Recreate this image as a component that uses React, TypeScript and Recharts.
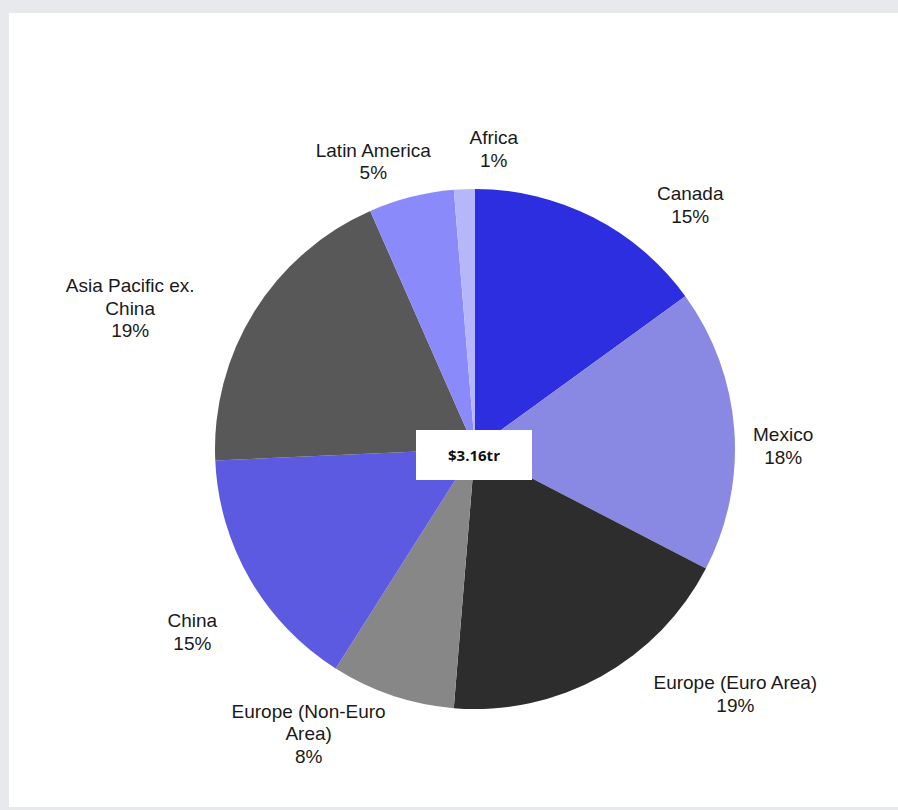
import React from "react";
import { Cell, Label, Pie, PieChart } from "recharts";

// regions, in clockwise order from 12 o'clock
const regions = [
  "Canada",
  "Mexico",
  "Europe (Euro Area)",
  "Europe (Non-Euro Area)",
  "China",
  "Asia Pacific ex. China",
  "Latin America",
  "Africa",
];

// share of total (%)
const shares = [15.0, 17.6, 18.7, 7.7, 15.3, 19.1, 5.3, 1.3];

// rounded label text as printed on the chart
const shareLabels = ["15%", "18%", "19%", "8%", "15%", "19%", "5%", "1%"];

// how each name wraps onto lines
const nameLines = [
  ["Canada"],
  ["Mexico"],
  ["Europe (Euro Area)"],
  ["Europe (Non-Euro", "Area)"],
  ["China"],
  ["Asia Pacific ex.", "China"],
  ["Latin America"],
  ["Africa"],
];

const totalLabel = "$3.16tr";

const colors = [
  "#2e2ee1",
  "#8988e2",
  "#2d2d2d",
  "#878787",
  "#5b5ae0",
  "#585858",
  "#8a8afb",
  "#b6b6fb",
];

// nudges for each label from its spot on the mid-angle (Excel-style placement)
const labelNudge = [
  [79, 23],
  [9, 19],
  [115, -18],
  [-71, 0],
  [-23, 32],
  [-90, 17],
  [-28, 3],
  [31, -1],
];

const data = regions.map((name, i) => ({
  name,
  value: shares[i],
  idx: i,
}));

const CX = 475;
const CY = 449;
const RADIAN = Math.PI / 180;
const LINE_H = 22.5;

const renderLabel = (props: any) => {
  const { cx, cy, midAngle, outerRadius, index } = props;
  const r = outerRadius + 40;
  const x = cx + r * Math.cos(-midAngle * RADIAN) + labelNudge[index][0];
  const y = cy + r * Math.sin(-midAngle * RADIAN) + labelNudge[index][1];
  const lines = [...nameLines[index], shareLabels[index]];
  const top = y - ((lines.length - 1) * LINE_H) / 2;
  return (
    <text
      key={`lbl-${index}`}
      x={x}
      y={top}
      textAnchor="middle"
      dominantBaseline="central"
      fill="#1a1a1a"
      fontSize={19}
      fontFamily="'Liberation Sans', Arial, sans-serif"
    >
      {lines.map((ln, j) => (
        <tspan key={j} x={x} y={top + j * LINE_H} dominantBaseline="central">
          {ln}
        </tspan>
      ))}
    </text>
  );
};

// white box with the total, sitting just off the pie centre
const renderCenter = () => (
  <g>
    <rect x={CX - 59} y={CY - 19} width={116} height={50} fill="#ffffff" />
    <text
      x={CX - 1}
      y={CY + 6}
      textAnchor="middle"
      dominantBaseline="central"
      fontSize={15}
      fontWeight={700}
      fill="#111111"
      fontFamily="'Open Sans', sans-serif"
    >
      {totalLabel}
    </text>
  </g>
);

export default function App() {
  return (
    <div
      style={{
        position: "absolute",
        left: 0,
        top: 0,
        width: 898,
        height: 810,
        background: "#e8e9ed",
      }}
    >
      <div
        style={{
          position: "absolute",
          left: 9,
          top: 13,
          width: 889,
          height: 794,
          background: "#ffffff",
        }}
      />
      <div style={{ position: "absolute", left: 0, top: 0 }}>
        <PieChart
          width={898}
          height={810}
          margin={{ top: 0, right: 0, bottom: 0, left: 0 }}
        >
          <Pie
            data={data}
            dataKey="value"
            nameKey="name"
            cx={CX}
            cy={CY}
            outerRadius={260}
            startAngle={90}
            endAngle={-270}
            stroke="none"
            label={renderLabel}
            labelLine={false}
            isAnimationActive={false}
          >
            {data.map((d) => (
              <Cell key={d.name} fill={colors[d.idx]} />
            ))}
            <Label position="center" content={renderCenter} />
          </Pie>
        </PieChart>
      </div>
    </div>
  );
}
